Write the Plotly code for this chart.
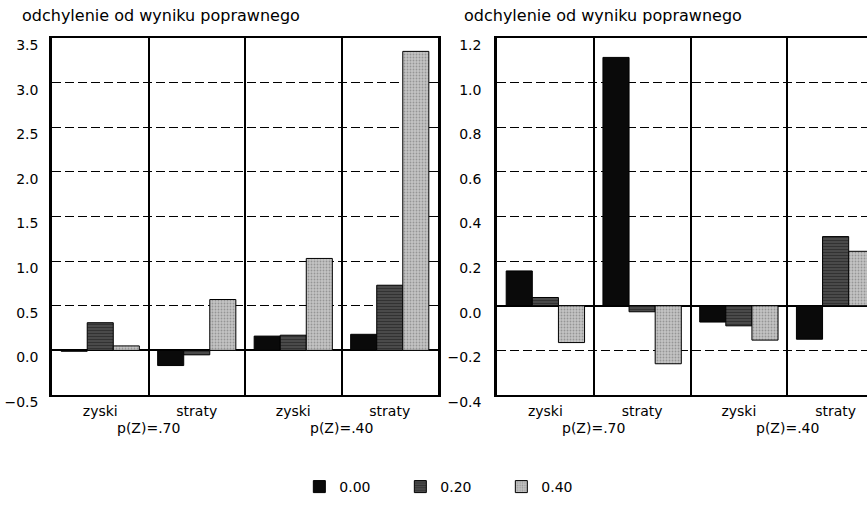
import plotly.graph_objects as go

categories = ["zyski", "straty", "zyski", "straty"]
conditions = ["p(Z)=.70", "p(Z)=.40"]
series_names = ["0.00", "0.20", "0.40"]

left_values = {
    "0.00": [-0.01, -0.17, 0.16, 0.18],
    "0.20": [0.31, -0.05, 0.17, 0.73],
    "0.40": [0.05, 0.57, 1.03, 3.35],
}
right_values = {
    "0.00": [0.156, 1.113, -0.073, -0.15],
    "0.20": [0.037, -0.027, -0.09, 0.31],
    "0.40": [-0.165, -0.26, -0.154, 0.244],
}
y_title = "odchylenie od wyniku poprawnego"

FONT = "DejaVu Sans"
FS = 14
styles = {
    "0.00": dict(color="#0a0a0a", pattern=dict(shape="")),
    "0.20": dict(color="#4a4a4a", pattern=dict(shape="-", fgcolor="#1a1a1a", size=3, solidity=0.35, fillmode="overlay")),
    "0.40": dict(color="#c4c4c4", pattern=dict(shape=".", fgcolor="#666666", size=3, solidity=0.3, fillmode="overlay")),
}

xpos = list(range(len(categories)))
fig = go.Figure()
for name in series_names:
    st = styles[name]
    fig.add_trace(go.Bar(x=xpos, y=left_values[name], name=name, xaxis="x", yaxis="y",
                         marker=dict(color=st["color"], pattern=st["pattern"], line=dict(color="black", width=1))))
for name in series_names:
    st = styles[name]
    fig.add_trace(go.Bar(x=xpos, y=right_values[name], name=name, xaxis="x2", yaxis="y2", showlegend=False,
                         marker=dict(color=st["color"], pattern=st["pattern"], line=dict(color="black", width=1))))

W, H = 867, 509
ydom = [1 - 395 / H, 1 - 38 / H]
common_x = dict(tickmode="array", tickvals=xpos, ticktext=categories, showgrid=False,
                showline=True, linecolor="black", linewidth=1.5, mirror=True, ticks="",
                zeroline=False, automargin=False, ticklabelstandoff=2,
                tickfont=dict(family=FONT, size=FS, color="black"),
                minor=dict(tickmode="array", tickvals=[0.5, 1.5, 2.5], showgrid=True,
                           gridcolor="black", gridwidth=1.5, ticks=""))
common_y = dict(showgrid=True, gridcolor="black", griddash="9px,4px", gridwidth=1,
                zeroline=True, zerolinecolor="black", zerolinewidth=2,
                showline=True, linecolor="black", linewidth=2.5, mirror=True, ticks="",
                automargin=False, tickformat=".1f", ticklabelshift=7,
                tickfont=dict(family=FONT, size=FS, color="black"))

fig.update_layout(
    width=W, height=H, margin=dict(l=0, r=0, t=0, b=0, autoexpand=False),
    paper_bgcolor="white", plot_bgcolor="white",
    barmode="group", bargap=0.19, bargroupgap=0,
    font=dict(family=FONT, size=FS, color="black"),
    xaxis=dict(domain=[52 / W, 438 / W], range=[-0.5, 3.5], anchor="y", **common_x),
    yaxis=dict(domain=ydom, range=[-0.5, 3.5], dtick=0.5, anchor="x", ticklabelstandoff=8, **common_y),
    xaxis2=dict(domain=[497 / W, 1.0], range=[-0.5, 3.5 - (884 - 867) / 96.8], anchor="y2", **common_x),
    yaxis2=dict(domain=ydom, range=[-0.4, 1.2], dtick=0.2, anchor="x2", ticklabelstandoff=10, **common_y),
    legend=dict(orientation="h", x=0.52, xanchor="center", y=1 - 487 / H, yanchor="middle",
                font=dict(family=FONT, size=FS), entrywidth=56, entrywidthmode="pixels",
                traceorder="normal"),
)

annotations = []
for xa in ("x", "x2"):
    for i, cond in enumerate(conditions):
        annotations.append(dict(x=0.5 + 2 * i, xref=xa, y=1 - 428 / H, yref="paper",
                                text=cond, showarrow=False, font=dict(family=FONT, size=FS),
                                xanchor="center", yanchor="middle"))
for x0 in (20, 462):
    annotations.append(dict(x=x0 / W, xref="paper", y=1 - 16 / H, yref="paper", text=y_title,
                            showarrow=False, xanchor="left", yanchor="middle",
                            font=dict(family=FONT, size=16)))
fig.update_layout(annotations=annotations)

fig.write_html("out.html", config={"displayModeBar": False},
               post_script="document.body.style.margin='0';document.body.style.overflow='hidden';")
